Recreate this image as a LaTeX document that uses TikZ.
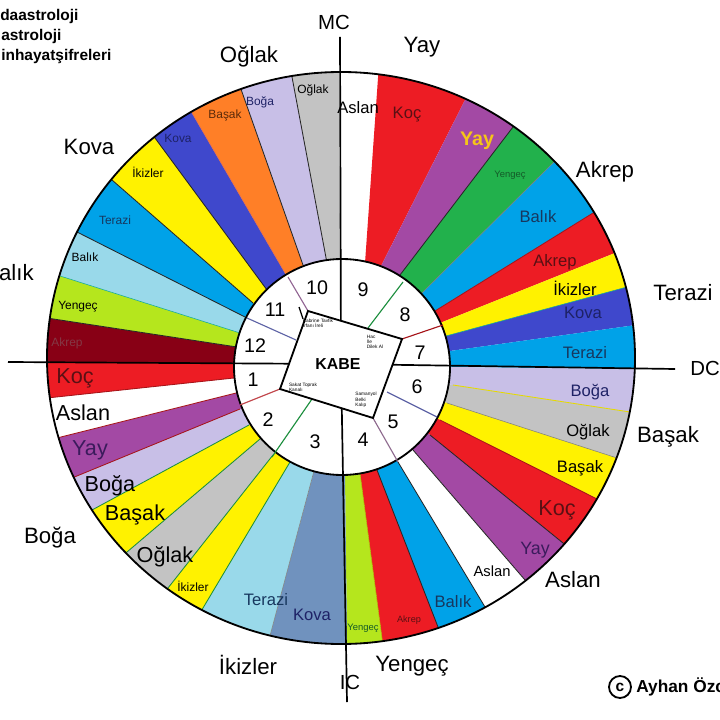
\documentclass[tikz,border=0pt]{standalone}
\usepackage{fontspec}
\setmainfont{Liberation Sans}
\usetikzlibrary{calc}
\definecolor{PRed}{HTML}{ED1C24}
\definecolor{PPurple}{HTML}{A349A4}
\definecolor{PGreen}{HTML}{22B14C}
\definecolor{PBlue}{HTML}{00A2E8}
\definecolor{PYellow}{HTML}{FFF200}
\definecolor{PIndigo}{HTML}{3F48CC}
\definecolor{PLavender}{HTML}{C8BFE7}
\definecolor{PGrey}{HTML}{C3C3C3}
\definecolor{PLime}{HTML}{B5E61D}
\definecolor{PSlate}{HTML}{7092BE}
\definecolor{PSky}{HTML}{99D9EA}
\definecolor{PMaroon}{HTML}{880015}
\definecolor{POrange}{HTML}{FF7F27}
\definecolor{PGold}{HTML}{F5C518}
\definecolor{InkRed}{HTML}{5A1014}
\definecolor{InkNavy}{HTML}{1E2266}
\definecolor{InkBlue}{HTML}{17375E}
\definecolor{InkPurple}{HTML}{3B1B5C}
\definecolor{InkGreen}{HTML}{145A28}
\definecolor{InkBrown}{HTML}{5A2A0A}
\newcommand\bandfill[3]{\fill[#3] ($(o#1)!1.15!(i#1)$) -- ($(i#1)!1.5!(o#1)$) -- ($(i#2)!1.5!(o#2)$) -- ($(o#2)!1.15!(i#2)$) -- cycle;}
\newcommand\bandline[2][bline]{\draw[#1] (i#2) -- ($(i#2)!1.1!(o#2)$);}

\begin{document}
\begin{tikzpicture}[x=0.025cm,y=-0.025cm,every node/.style={inner sep=0pt,text=black},
  outlbl/.style={font=\fontsize{15.8}{16}\selectfont},axlbl/.style={font=\fontsize{14.5}{15}\selectfont},
  bigl/.style={font=\fontsize{15.4}{16}\selectfont},midl/.style={font=\fontsize{11.8}{12}\selectfont},
  smal/.style={font=\fontsize{8.5}{9}\selectfont},tinyl/.style={font=\fontsize{6.7}{7}\selectfont},
  housenum/.style={font=\fontsize{14}{14}\selectfont},cornertxt/.style={font=\fontsize{3.4}{3.8}\selectfont,align=left},
  titl/.style={font=\bfseries\fontsize{11}{11}\selectfont,anchor=west},
  bline/.style={line width=0.6pt,draw=black!85},gline/.style={line width=0.6pt,draw=PGreen!80!black},
  yline/.style={line width=0.6pt,draw=PYellow!90!black},rline/.style={line width=0.6pt,draw=PRed!70!black},
  axis/.style={line width=1.2pt,draw=black},rim/.style={line width=1.3pt,draw=black}]
\useasboundingbox (0,0) rectangle (720,720);

% ring boundaries: inner end i, outer end o
\coordinate (i0) at (340,262); \coordinate (o0) at (339,73); \coordinate (i1) at (365,263); \coordinate (o1) at (378,78);
\coordinate (i2) at (381,266); \coordinate (o2) at (465,100); \coordinate (i3) at (400,275); \coordinate (o3) at (513,127);
\coordinate (i4) at (421,294); \coordinate (o4) at (553,163); \coordinate (i5) at (435,311); \coordinate (o5) at (593,213);
\coordinate (i6) at (440,323); \coordinate (o6) at (615,253); \coordinate (i7) at (446,336); \coordinate (o7) at (627,287);
\coordinate (i8) at (450,351); \coordinate (o8) at (636,325); \coordinate (i9) at (452,367); \coordinate (o9) at (636,369);
\coordinate (i10) at (453,385); \coordinate (o10) at (630,412); \coordinate (i11) at (447,403); \coordinate (o11) at (617,458);
\coordinate (i12) at (440,420); \coordinate (o12) at (595,498); \coordinate (i13) at (430,435); \coordinate (o13) at (563,543);
\coordinate (i14) at (413,450); \coordinate (o14) at (525,580); \coordinate (i15) at (398,462); \coordinate (o15) at (485,607);
\coordinate (i16) at (377,470); \coordinate (o16) at (438,627); \coordinate (i17) at (360,473); \coordinate (o17) at (382,638);
\coordinate (i18) at (345,475); \coordinate (o18) at (347,642); \coordinate (i19) at (314,471); \coordinate (o19) at (271,632);
\coordinate (i20) at (290,462); \coordinate (o20) at (203,608); \coordinate (i21) at (273,455); \coordinate (o21) at (168,588);
\coordinate (i22) at (260,439); \coordinate (o22) at (127,552); \coordinate (i23) at (249,425); \coordinate (o23) at (92,510);
\coordinate (i24) at (240,409); \coordinate (o24) at (72,478); \coordinate (i25) at (236,393); \coordinate (o25) at (57,438);
\coordinate (i26) at (234,378); \coordinate (o26) at (47,398); \coordinate (i27) at (234,364); \coordinate (o27) at (45,362);
\coordinate (i28) at (237,347); \coordinate (o28) at (47,318); \coordinate (i29) at (240,333); \coordinate (o29) at (57,275);
\coordinate (i30) at (245,317); \coordinate (o30) at (77,232); \coordinate (i31) at (253,303); \coordinate (o31) at (112,180);
\coordinate (i32) at (267,290); \coordinate (o32) at (155,138); \coordinate (i33) at (285,273); \coordinate (o33) at (192,113);
\coordinate (i34) at (303,265); \coordinate (o34) at (242,92); \coordinate (i35) at (327,263); \coordinate (o35) at (292,77);

\begin{scope}
\clip (341,358) ellipse [x radius=294,y radius=286];
\bandfill{0}{1}{white} \bandfill{1}{2}{PRed} \bandfill{2}{3}{PPurple} \bandfill{3}{4}{PGreen} \bandfill{4}{5}{PBlue} \bandfill{5}{6}{PRed}
\bandfill{6}{7}{PYellow} \bandfill{7}{8}{PIndigo} \bandfill{8}{9}{PBlue} \bandfill{9}{10}{PLavender} \bandfill{10}{11}{PGrey} \bandfill{11}{12}{PYellow}
\bandfill{12}{13}{PRed} \bandfill{13}{14}{PPurple} \bandfill{14}{15}{white} \bandfill{15}{16}{PBlue} \bandfill{16}{17}{PRed} \bandfill{17}{18}{PLime}
\bandfill{18}{19}{PSlate} \bandfill{19}{20}{PSky} \bandfill{20}{21}{PYellow} \bandfill{21}{22}{PGrey} \bandfill{22}{23}{PYellow} \bandfill{23}{24}{PLavender}
\bandfill{24}{25}{PPurple} \bandfill{25}{26}{white} \bandfill{26}{27}{PRed} \bandfill{27}{28}{PMaroon} \bandfill{28}{29}{PLime} \bandfill{29}{30}{PSky}
\bandfill{30}{31}{PBlue} \bandfill{31}{32}{PYellow} \bandfill{32}{33}{PIndigo} \bandfill{33}{34}{POrange} \bandfill{34}{35}{PLavender} \bandfill{35}{0}{PGrey}
\bandline{3} \bandline[draw=gray]{4} \bandline[rline]{5} \bandline[draw=PGreen!60!PBlue]{7} \bandline[yline]{10} \bandline[draw=gray]{11}
\bandline[rline]{12} \bandline{13} \bandline{14} \bandline{15} \bandline{16} \bandline[draw=PYellow!70!black]{17} \bandline[draw=gray]{19}
\bandline[gline]{20} \bandline[gline]{21} \bandline[gline]{22} \bandline[gline]{23} \bandline[rline]{24} \bandline[rline]{25} \bandline[rline]{26}
\bandline{28} \bandline[draw=PGreen!60!PBlue]{29} \bandline{30} \bandline{31} \bandline{32} \bandline[draw=POrange!60!PPurple]{33} \bandline{34} \bandline{35}
\end{scope}
\draw[rim] (341,358) ellipse [x radius=294,y radius=286];
\filldraw[rim,fill=white] (342,367) circle [radius=108];

% house dividers and the Kabe box
\coordinate (k1) at (308,311); \coordinate (k2) at (402,339); \coordinate (k3) at (373,418); \coordinate (k4) at (280,389); \coordinate (kc) at (341,364);
\coordinate (mcTop) at (340,37); \coordinate (icBot) at (347,702); \coordinate (acLeft) at (8,362); \coordinate (dcRight) at (675,369);
\draw[line width=0.8pt,draw=PPurple!50!gray] (288,277) -- (k1); \draw[line width=0.9pt] (299,307) -- (303,319);
\draw[line width=0.8pt,draw=PIndigo!50!gray] (247,318) -- (296,340); \draw[line width=0.8pt,draw=PRed!60!gray] (240,405) -- (k4);
\draw[gline,line width=0.8pt] (272,457) -- (312,399); \draw[line width=0.8pt,draw=PPurple!40!gray] (k3) -- (398,462);
\draw[line width=0.8pt,draw=PIndigo!50!gray] (387,392) -- (437,417); \draw[rline,line width=0.8pt] (k2) -- (443,325);
\draw[gline,line width=0.8pt] (368,328) -- (403,282);
\draw[axis] (mcTop) -- (kc); \draw[axis] (icBot) -- (kc); \draw[axis] (acLeft) -- (kc); \draw[axis] (dcRight) -- (kc);
\filldraw[rim,fill=white] (k1) -- (k2) -- (k3) -- (k4) -- cycle;
\node[font=\bfseries\fontsize{11.3}{12}\selectfont] (kabe) at (338,364) {KABE};
\node[cornertxt] (kabeNW) at (318,323) {Kabrine Tavfik\\İrfanı İreli};
\node[cornertxt] (kabeNE) at (375,342) {Hac\\İle\\Dilek Al};
\node[cornertxt] (kabeSW) at (303,387) {Sakat Toprak\\Kanalı};
\node[cornertxt] (kabeSE) at (366,400) {Samanyol\\Belki\\Kalıp};

\node[housenum] (h10) at (317,288) {10}; \node[housenum] (h9) at (363,290) {9}; \node[housenum] (h8) at (405,315) {8};
\node[housenum] (h7) at (420,353) {7}; \node[housenum] (h6) at (417,387) {6}; \node[housenum] (h5) at (393,422) {5};
\node[housenum] (h4) at (363,440) {4}; \node[housenum] (h3) at (315,442) {3}; \node[housenum] (h2) at (268,420) {2};
\node[housenum] (h1) at (253,380) {1}; \node[housenum] (h12) at (255,346) {12}; \node[housenum] (h11) at (275,310) {11};

% band labels, clockwise from MC
\node[midl] (aslanA) at (358,108) {Aslan}; \node[midl,text=InkRed] (kocA) at (407,115) {Koç};
\node[font=\bfseries\fontsize{14}{14}\selectfont,text=PGold] (yayA) at (477,141) {Yay};
\node[tinyl,text=InkGreen] (yengecA) at (510,175) {Yengeç}; \node[midl,text=InkBlue] (balikA) at (538,217) {Balık};
\node[midl,text=InkRed] (akrepA) at (555,262) {Akrep}; \node[midl] (ikizlerA) at (575,288) {İkizler};
\node[midl,text=InkNavy] (kovaA) at (583,313) {Kova}; \node[midl,text=InkBlue] (teraziA) at (585,353) {Terazi};
\node[midl,text=InkNavy] (bogaB) at (590,392) {Boğa}; \node[midl] (oglakB) at (588,432) {Oğlak}; \node[midl] (basakB) at (580,468) {Başak};
\node[bigl,text=InkRed] (kocB) at (557,510) {Koç}; \node[font=\fontsize{12.7}{13}\selectfont,text=InkPurple] (yayB) at (535,550) {Yay};
\node[font=\fontsize{10.5}{11}\selectfont] (aslanB) at (492,571) {Aslan}; \node[midl,text=InkBlue] (balikB) at (453,602) {Balık};
\node[font=\fontsize{6.5}{7}\selectfont,text=InkRed] (akrepB) at (409,620) {Akrep}; \node[tinyl,text=InkGreen] (yengecB) at (363,628) {Yengeç};
\node[midl,text=InkNavy] (kovaC) at (312,615) {Kova}; \node[midl,text=InkBlue] (teraziC) at (266,600) {Terazi};
\node[smal] (ikizlerC) at (193,586) {İkizler}; \node[bigl] (oglakC) at (165,557) {Oğlak}; \node[bigl] (basakC) at (135,515) {Başak};
\node[bigl] (bogaC) at (110,486) {Boğa}; \node[bigl,text=InkPurple] (yayC) at (90,450) {Yay};
\node[bigl] (aslanC) at (83,413) {Aslan}; \node[bigl,text=InkRed] (kocC) at (75,378) {Koç};
\node[smal,text=PMaroon!55!gray] (akrepD) at (67,343) {Akrep}; \node[smal] (yengecD) at (78,307) {Yengeç};
\node[smal] (balikD) at (85,257) {Balık}; \node[smal,text=InkBlue] (teraziD) at (115,220) {Terazi};
\node[smal] (ikizlerD) at (148,172) {İkizler}; \node[smal,text=InkNavy] (kovaD) at (178,138) {Kova};
\node[smal,text=InkBrown] (basakD) at (225,115) {Başak}; \node[smal,text=InkNavy] (bogaD) at (260,102) {Boğa}; \node[smal] (oglakD) at (313,90) {Oğlak};

% outer labels
\node[axlbl] (mc) at (334,22) {MC}; \node[axlbl,anchor=west] (dc) at (690,368) {DC}; \node[axlbl] (ic) at (350,682) {IC};
\node[outlbl] (yayOut) at (422,47) {Yay}; \node[outlbl] (oglakOut) at (249,57) {Oğlak}; \node[outlbl] (kovaOut) at (89,147) {Kova};
\node[outlbl] (akrepOut) at (605,172) {Akrep}; \node[outlbl] (teraziOut) at (683,293) {Terazi}; \node[outlbl] (basakOut) at (668,437) {Başak};
\node[outlbl] (aslanOut) at (573,580) {Aslan}; \node[outlbl] (yengecOut) at (412,666) {Yengeç}; \node[outlbl] (ikizlerOut) at (248,665) {İkizler};
\node[outlbl] (bogaOut) at (50,538) {Boğa}; \node[outlbl,anchor=east] (balikOut) at (34,273) {Balık};

\node[titl] (tag1) at (0,17) {daastroloji}; \node[titl] (tag2) at (1,37) {astroloji}; \node[titl] (tag3) at (1,57) {inhayatşifreleri};
\node[circle,draw,line width=1.3pt,minimum size=0.55cm,font=\bfseries\fontsize{11}{11}\selectfont] (copy) at (620,687) {c};
\node[font=\bfseries\fontsize{12.3}{13}\selectfont,anchor=west] (author) at (636,687) {Ayhan Özc};
\end{tikzpicture}
\end{document}
